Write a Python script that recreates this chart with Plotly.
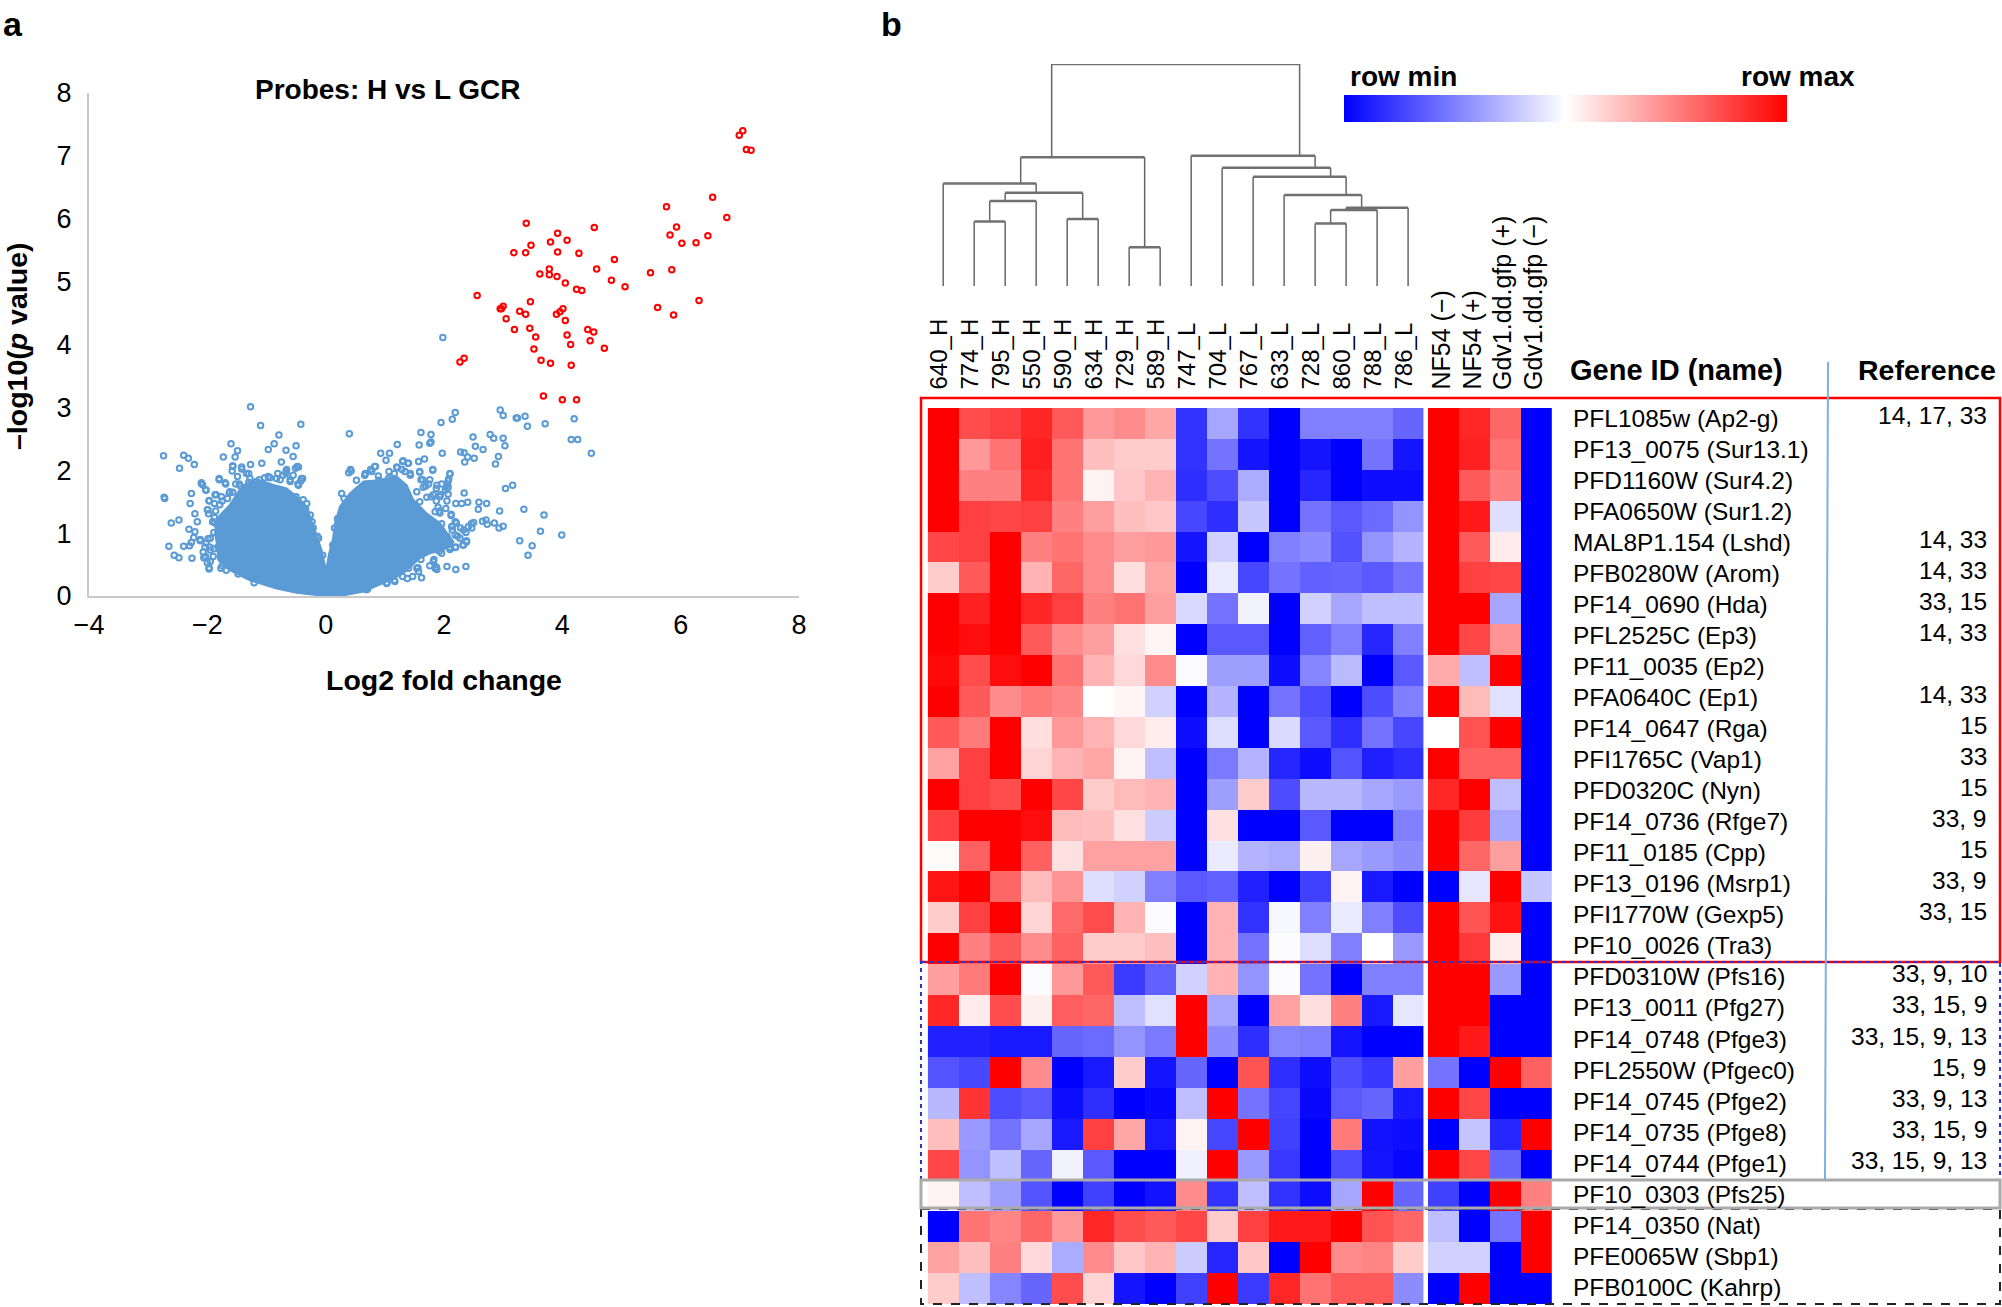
import plotly.graph_objects as go

W, H = 2002, 1307
FONT = "Liberation Sans"

# panel a: (log2 fold change, -log10 p)
red_points = [
    (7.05, 7.40), (6.99, 7.33), (7.11, 7.10), (7.19, 7.09), (6.54, 6.34), (5.76, 6.19), (6.78, 6.02),
    (3.39, 5.93), (4.54, 5.86), (5.93, 5.87), (3.92, 5.77), (6.46, 5.73), (5.82, 5.74), (4.08, 5.66),
    (3.80, 5.63), (3.47, 5.58), (6.02, 5.61), (6.26, 5.62), (3.18, 5.46), (3.38, 5.46), (3.92, 5.47),
    (4.28, 5.45), (4.88, 5.35), (3.78, 5.20), (4.58, 5.20), (5.85, 5.19), (5.49, 5.14), (3.62, 5.12),
    (3.78, 5.11), (3.91, 5.08), (4.83, 5.02), (4.05, 4.98), (5.06, 4.92), (4.24, 4.88), (4.33, 4.86),
    (2.56, 4.78), (3.46, 4.68), (6.31, 4.70), (3.00, 4.61), (2.95, 4.57), (2.97, 4.57), (5.61, 4.59),
    (4.01, 4.57), (3.96, 4.52), (3.90, 4.48), (3.28, 4.53), (3.38, 4.48), (5.88, 4.47), (3.05, 4.41),
    (4.05, 4.38), (3.45, 4.26), (3.19, 4.24), (4.43, 4.24), (4.53, 4.20), (4.08, 4.15), (3.55, 4.12),
    (4.47, 4.06), (4.14, 4.00), (4.71, 3.94), (3.52, 3.93), (2.34, 3.78), (2.27, 3.72), (3.64, 3.75),
    (3.80, 3.70), (4.15, 3.67), (3.68, 3.18), (4.00, 3.12), (4.24, 3.12),
]

blue_right = [
    (1.98, 4.11), (2.95, 2.96), (3.00, 2.87), (2.19, 2.92), (2.14, 2.81), (1.95, 2.76), (3.22, 2.83),
    (3.24, 2.83), (3.37, 2.86), (3.41, 2.70), (3.71, 2.74), (4.20, 2.82), (4.15, 2.49), (4.26, 2.49),
    (4.49, 2.27), (1.61, 2.60), (1.78, 2.57), (2.49, 2.53), (2.78, 2.57), (2.84, 2.51), (3.00, 2.51),
    (3.03, 2.39), (2.53, 2.38), (2.66, 2.33), (1.78, 2.45), (1.76, 2.43), (1.58, 2.40), (1.21, 2.41),
    (2.28, 2.29), (2.34, 2.28), (2.40, 2.21), (2.51, 2.19), (2.35, 2.13), (2.92, 2.22), (2.87, 2.10),
    (1.97, 2.27), (1.67, 2.18), (1.57, 2.14), (1.81, 2.01), (1.59, 1.98), (2.10, 1.95), (2.08, 1.86),
    (2.06, 1.78), (2.05, 1.71), (1.94, 1.61), (3.04, 1.71), (3.16, 1.76), (2.34, 1.64), (2.20, 1.47),
    (2.30, 1.47), (2.40, 1.49), (2.59, 1.49), (2.72, 1.47), (2.58, 1.38), (2.94, 1.35), (3.35, 1.38),
    (3.69, 1.29), (2.12, 1.30), (2.50, 1.17), (2.71, 1.21), (2.65, 1.19), (2.73, 1.14), (2.85, 1.16),
    (2.93, 1.08), (3.00, 1.11), (3.63, 1.03), (3.99, 0.97), (3.28, 0.88), (3.49, 0.80), (3.42, 0.65),
    (2.37, 0.47), (2.20, 0.42), (2.05, 0.47), (1.87, 0.46), (1.62, 0.29), (1.47, 0.31), (2.28, 1.08),
    (2.37, 1.01), (2.46, 1.15), (2.41, 1.10), (2.38, 0.88), (2.32, 0.81), (2.20, 0.78), (2.10, 0.77),
    (2.05, 0.95), (2.14, 1.05), (1.96, 1.15), (0.40, 2.58), (0.42, 2.01), (0.39, 1.96), (0.93, 2.27),
    (1.08, 2.27), (1.02, 2.16), (0.83, 2.06), (1.31, 2.15), (1.39, 2.11), (1.20, 2.05), (0.67, 1.95),
    (0.76, 2.01), (0.89, 1.91), (1.07, 1.98), (1.16, 1.95), (1.29, 2.01), (1.43, 1.95), (1.61, 1.85),
    (1.74, 1.78), (1.87, 1.71), (1.78, 1.58), (1.69, 1.75), (1.96, 1.78), (1.87, 1.51), (2.05, 1.51),
    (1.92, 1.35), (2.14, 1.11), (1.83, 0.58), (1.92, 0.71), (1.56, 0.45), (1.61, 0.58), (1.38, 0.28),
    (1.16, 0.25), (1.04, 0.21), (0.71, 0.11), (1.76, 0.48), (2.10, 0.85), (2.23, 0.95), (2.19, 1.18),
    (1.87, 0.98),
    (0.43, 1.99), (0.52, 1.84), (0.66, 1.92), (0.78, 1.98), (0.84, 2.06), (0.90, 1.84), (1.06, 1.87),
    (1.21, 2.04), (1.30, 2.14), (1.40, 2.11), (1.34, 1.98), (1.43, 1.92), (1.59, 1.97), (1.81, 2.00),
    (1.64, 1.85), (1.76, 1.85), (1.88, 1.76), (2.07, 1.83), (2.10, 1.94), (2.07, 1.73), (2.02, 1.68),
    (1.65, 1.73), (1.54, 1.66), (1.71, 1.57), (1.82, 1.61), (1.93, 1.58), (2.07, 1.62), (1.59, 1.50),
    (1.90, 1.41), (2.03, 1.39), (1.93, 1.32), (2.12, 1.28), (1.85, 1.34), (2.21, 1.16), (2.13, 1.10),
    (2.33, 1.05), (2.47, 1.08), (2.19, 0.97), (2.27, 0.92), (2.38, 0.86), (2.33, 0.81), (2.19, 0.77),
    (2.10, 0.74), (1.96, 0.68), (1.82, 0.55), (1.85, 0.44), (1.88, 0.42), (1.54, 0.44), (1.40, 0.44),
    (1.57, 0.39), (1.30, 0.31), (1.17, 0.23), (1.03, 0.20), (0.69, 0.10), (0.15, 1.08), (0.12, 0.81),
    (0.20, 1.23), (0.27, 1.63), (0.31, 1.55),
]

blue_left = [
    (-1.27, 3.01), (-1.10, 2.71), (-0.42, 2.73), (-0.79, 2.56), (-0.87, 2.42), (-0.97, 2.33), (-0.50, 2.39),
    (-0.67, 2.32), (-0.55, 2.22), (-1.60, 2.42), (-1.49, 2.31), (-1.53, 2.21), (-1.73, 2.21), (-2.74, 2.23),
    (-2.40, 2.24), (-2.32, 2.19), (-2.22, 2.09), (-2.47, 2.03), (-1.08, 2.11), (-1.27, 2.09), (-0.75, 2.13),
    (-0.48, 2.06), (-0.66, 2.01), (-1.57, 2.07), (-1.42, 2.05), (-1.80, 1.87), (-1.70, 1.80), (-2.10, 1.80),
    (-2.08, 1.77), (-2.03, 1.69), (-2.27, 1.63), (-0.41, 1.87), (-0.47, 1.78), (-2.73, 1.57), (-2.72, 1.55),
    (-2.29, 1.47), (-2.21, 1.31), (-2.48, 1.21), (-2.61, 1.16), (-2.17, 1.18), (-2.31, 1.06), (-2.21, 1.02),
    (-2.12, 0.90), (-2.23, 0.93), (-2.65, 0.79), (-2.40, 0.79), (-2.30, 0.80), (-2.27, 0.85), (-2.56, 0.65),
    (-2.48, 0.61), (-2.26, 0.60), (-1.97, 0.45), (-2.03, 0.63), (-1.99, 0.91), (-1.96, 0.78), (-1.95, 0.55),
    (-1.68, 0.41), (-1.75, 0.48), (-1.88, 0.75), (-1.97, 1.51), (-1.87, 1.61), (-1.99, 1.37), (-1.88, 1.25),
    (-1.82, 1.11), (-1.75, 1.51), (-1.62, 1.66), (-1.52, 1.78), (-1.30, 1.95), (-1.03, 1.88), (-0.81, 1.95),
    (-0.67, 1.95), (-1.48, 0.35), (-1.61, 0.48), (-1.77, 0.61), (-1.82, 0.78), (-1.89, 1.01), (-1.91, 1.18),
    (-1.86, 1.35), (-1.79, 1.45), (-1.66, 1.55), (-1.57, 1.65), (-1.44, 1.75), (-1.30, 1.81), (-1.12, 1.85),
    (-0.94, 1.88), (-0.77, 1.85), (-0.60, 1.85), (-0.50, 1.58), (-0.34, 1.38), (-0.23, 1.18), (-0.14, 0.95),
    (-1.21, 0.21),
    (-0.51, 2.03), (-0.46, 2.05), (-0.67, 1.98), (-0.55, 1.92), (-0.39, 1.87), (-0.42, 1.83), (-0.46, 1.76),
    (-1.57, 2.06), (-1.58, 1.99), (-1.42, 2.02), (-1.34, 1.95), (-1.49, 1.90), (-1.80, 1.85), (-1.69, 1.78),
    (-2.10, 1.79), (-2.02, 1.68), (-1.46, 1.78), (-1.63, 1.64), (-1.85, 1.61), (-1.76, 1.58), (-1.97, 1.52),
    (-1.88, 1.47), (-2.00, 1.37), (-1.98, 1.31), (-1.87, 1.16), (-1.81, 1.08), (-1.90, 1.18), (-1.76, 1.23),
    (-1.95, 0.92), (-2.02, 0.84), (-2.12, 0.88), (-1.95, 0.73), (-1.90, 0.63), (-1.76, 0.86), (-2.04, 0.78),
    (-2.07, 0.70), (-2.06, 0.61), (-2.00, 0.53), (-1.97, 0.43), (-1.77, 0.44), (-0.97, 1.90), (-0.83, 1.87),
    (-0.72, 1.92), (-0.60, 1.82), (-1.17, 1.82), (-1.28, 1.87), (-0.32, 1.47), (-0.26, 1.29), (-0.12, 0.92),
    (-0.38, 1.53), (-0.21, 1.08), (-0.05, 0.65),
]

# outlines of the two solid parts of the cloud, too dense to read point by point
mass_left = [
    (0.0, 0.0), (-0.49, 0.05), (-0.83, 0.12), (-1.28, 0.25), (-1.62, 0.41), (-1.81, 0.57), (-1.84, 0.84),
    (-1.87, 1.00), (-1.81, 1.26), (-1.62, 1.45), (-1.45, 1.69), (-1.34, 1.79), (-1.11, 1.84), (-0.86, 1.76),
    (-0.66, 1.71), (-0.49, 1.58), (-0.32, 1.42), (-0.24, 1.21), (-0.15, 0.97), (-0.07, 0.73), (-0.01, 0.47),
    (0.0, 0.0),
]
mass_right = [
    (0.0, 0.0), (0.02, 0.47), (0.06, 0.68), (0.12, 0.89), (0.16, 1.16), (0.24, 1.42), (0.41, 1.63),
    (0.64, 1.82), (0.89, 1.84), (1.20, 1.90), (1.37, 1.76), (1.48, 1.53), (1.71, 1.31), (1.93, 1.16),
    (2.05, 1.00), (2.16, 0.86), (1.99, 0.73), (1.76, 0.68), (1.59, 0.60), (1.31, 0.36), (1.03, 0.23),
    (0.64, 0.07), (0.24, 0.0), (0.0, 0.0),
]

# panel b
col_a = ["640_H", "774_H", "795_H", "550_H", "590_H", "634_H", "729_H", "589_H",
         "747_L", "704_L", "767_L", "633_L", "728_L", "860_L", "788_L", "786_L"]
col_b = ["NF54 (\u2212)", "NF54 (+)", "Gdv1.dd.gfp (+)", "Gdv1.dd.gfp (\u2212)"]

genes = [
    "PFL1085w (Ap2-g)", "PF13_0075 (Sur13.1)", "PFD1160W (Sur4.2)", "PFA0650W (Sur1.2)",
    "MAL8P1.154 (Lshd)", "PFB0280W (Arom)", "PF14_0690 (Hda)", "PFL2525C (Ep3)", "PF11_0035 (Ep2)",
    "PFA0640C (Ep1)", "PF14_0647 (Rga)", "PFI1765C (Vap1)", "PFD0320C (Nyn)", "PF14_0736 (Rfge7)",
    "PF11_0185 (Cpp)", "PF13_0196 (Msrp1)", "PFI1770W (Gexp5)", "PF10_0026 (Tra3)", "PFD0310W (Pfs16)",
    "PF13_0011 (Pfg27)", "PF14_0748 (Pfge3)", "PFL2550W (Pfgec0)", "PF14_0745 (Pfge2)", "PF14_0735 (Pfge8)",
    "PF14_0744 (Pfge1)", "PF10_0303 (Pfs25)", "PF14_0350 (Nat)", "PFE0065W (Sbp1)", "PFB0100C (Kahrp)",
]
references = [
    "14, 17, 33", "", "", "", "14, 33", "14, 33", "33, 15", "14, 33", "", "14, 33", "15", "33", "15",
    "33, 9", "15", "33, 9", "33, 15", "", "33, 9, 10", "33, 15, 9", "33, 15, 9, 13", "15, 9", "33, 9, 13",
    "33, 15, 9", "33, 15, 9, 13", "", "", "", "",
]

z_a = [
    [1, .7, .75, .85, .65, .4, .45, .35, -.8, -.35, -.8, -1, -.5, -.5, -.5, -.6],
    [1, .4, .55, .88, .55, .25, .2, .2, -.8, -.55, -.92, -1, -.92, -1, -.55, -.92],
    [1, .5, .5, .85, .55, .05, .22, .3, -.82, -.7, -.33, -1, -.85, -1, -.95, -.95],
    [1, .75, .72, .75, .5, .38, .25, .22, -.72, -.82, -.22, -1, -.55, -.65, -.58, -.42],
    [.72, .75, 1, .5, .55, .45, .38, .4, -.92, -.18, -1, -.5, -.45, -.68, -.42, -.3],
    [.2, .65, 1, .3, .6, .45, .13, .35, -1, -.08, -.72, -.55, -.62, -.6, -.65, -.55],
    [1, .87, 1, .85, .75, .5, .55, .38, -.15, -.55, -.05, -1, -.18, -.35, -.25, -.25],
    [1, .95, 1, .65, .45, .38, .12, .04, -1, -.65, -.65, -1, -.62, -.5, -.85, -.5],
    [.97, .7, .95, 1, .55, .3, .15, .45, -.02, -.38, -.38, -.95, -.48, -.27, -1, -.65],
    [1, .65, .45, .52, .47, 0, .04, -.18, -1, -.3, -1, -.55, -.7, -1, -.7, -.5],
    [.65, .52, 1, .13, .4, .3, .15, .07, -.95, -.13, -1, -.14, -.65, -.82, -.55, -.72],
    [.37, .75, 1, .17, .3, .35, .05, -.25, -1, -.52, -.3, -.85, -.95, -.67, -.88, -.82],
    [1, .75, .7, 1, .72, .2, .27, .3, -1, -.38, .2, -.7, -.28, -.28, -.35, -.4],
    [.75, 1, 1, .95, .27, .25, .12, -.2, -1, .12, -1, -1, -.65, -1, -1, -.5],
    [.02, .62, 1, .62, .12, .37, .37, .37, -1, -.08, -.3, -.33, .06, -.35, -.4, -.45],
    [.92, 1, .6, .27, .42, -.13, -.18, -.5, -.65, -.62, -.87, -1, -.75, .05, -.9, -1],
    [.2, .75, 1, .17, .58, .7, .3, -.01, -1, .3, -.8, -.03, -.5, -.08, -.5, -.7],
    [1, .5, .65, .45, .62, .2, .2, .25, -1, .3, -.55, -.01, -.13, -.5, 0, -.4],
    [.38, .52, 1, -.02, .4, .65, -.77, -.62, -.18, .3, -.42, -.01, -.55, -1, -.5, -.5],
    [.85, .08, .7, .06, .63, .6, -.25, -.12, 1, -.35, -1, .37, .13, .5, -.9, -.1],
    [-.87, -.87, -.9, -.9, -.6, -.58, -.42, -.52, 1, -.45, -.82, -.48, -.5, -.92, -1, -1],
    [-.67, -.72, 1, .45, -1, -.9, .2, -.92, -.6, -1, .67, -.82, -.95, -.7, -.78, .38],
    [-.28, .8, -.7, -.65, -.95, -.82, -1, -.97, -.25, 1, -.55, -.73, -.97, -.65, -.6, -.9],
    [.25, -.4, -.55, -.35, -.9, .75, .35, -.9, .05, -.72, 1, -.75, -1, .52, -.93, -.95],
    [.72, -.42, -.25, -.6, -.05, -.65, -1, -1, -.06, 1, -.4, -.78, -1, -.7, -.92, -.97],
    [.05, -.25, -.38, -.67, -1, -.75, -1, -.93, .45, -.8, -.25, -.8, -.95, -.35, 1, -.6],
    [-1, .55, .48, .6, .4, .85, .7, .65, .72, .2, .75, .9, .9, 1, .68, .6],
    [.37, .25, .5, .15, -.33, .45, .22, .3, -.2, -.85, .22, -1, 1, .45, .48, .2],
    [.2, -.25, -.48, -.6, .7, .17, -.92, -1, -.75, 1, -.77, .85, .55, .65, .65, -.45],
]
z_b = [
    [1, .85, .6, -1], [1, .87, .55, -1], [1, .65, .5, -1], [1, .9, -.13, -1], [1, .65, .08, -1],
    [1, .75, .72, -1], [1, 1, -.35, -1], [1, .72, .42, -1], [.33, -.25, 1, -1], [1, .27, -.12, -1],
    [0, .68, 1, -1], [1, .62, .62, -1], [.85, 1, -.25, -1], [1, .77, -.35, -1], [1, .6, .38, -1],
    [-1, -.1, 1, -.22], [1, .67, .93, -1], [1, .78, .07, -1], [1, 1, -.4, -1], [1, 1, -1, -1],
    [1, .9, -1, -1], [-.55, -1, 1, .62], [1, .72, -1, -1], [-1, -.23, -.85, 1], [1, .72, -.6, -1],
    [-.75, -1, 1, .5], [-.25, -1, -.55, 1], [-.18, -.18, -1, 1], [-1, 1, -1, -1],
]

# dendrogram merges: two children (leaf index, or "n<k>" for merge k) and height
merges = [
    (1, 2, .29), ("n0", 3, .383), (4, 5, .302), ("n1", "n2", .42), (0, "n3", .462), (6, 7, .174),
    ("n4", "n5", .58), (12, 13, .282), ("n7", 14, .342), ("n8", 15, .353), (11, "n9", .41),
    (10, "n10", .492), (9, "n11", .533), (8, "n12", .587), ("n6", "n13", 1.0),
]

BLUE = "#5b9bd5"
HEAT = [[0, "#0000ff"], [0.5, "#ffffff"], [1, "#ff0000"]]


def px(x):
    return x / W


def py(y):
    return 1 - y / H


def xs(points):
    return [p[0] for p in points]


def ys(points):
    return [p[1] for p in points]


fig = go.Figure()

# volcano
for mass in (mass_left, mass_right):
    fig.add_trace(go.Scatter(x=xs(mass), y=ys(mass), mode="lines", fill="toself", fillcolor=BLUE,
                             line=dict(color=BLUE, width=2), hoverinfo="skip", showlegend=False))
blue_points = blue_left + blue_right
fig.add_trace(go.Scatter(x=xs(blue_points), y=ys(blue_points), mode="markers", cliponaxis=False, showlegend=False,
                         marker=dict(symbol="circle-open", size=5.5, color=BLUE, line=dict(color=BLUE, width=2))))
fig.add_trace(go.Scatter(x=xs(red_points), y=ys(red_points), mode="markers", cliponaxis=False, showlegend=False,
                         marker=dict(symbol="circle-open", size=5.5, color="#ff0000", line=dict(color="#ff0000", width=2))))

# heat maps, the first one carries the row min / row max bar
fig.add_trace(go.Heatmap(
    z=z_a, x=col_a, y=genes, xaxis="x2", yaxis="y2", colorscale=HEAT, zmin=-1, zmax=1,
    colorbar=dict(orientation="h", x=px(1344), xanchor="left", y=py(122), yanchor="bottom",
                  lenmode="pixels", len=443, thicknessmode="pixels", thickness=27,
                  xpad=0, ypad=0, outlinewidth=0, ticks="", showticklabels=False),
))
fig.add_trace(go.Heatmap(z=z_b, x=col_b, y=genes, xaxis="x3", yaxis="y2", colorscale=HEAT, zmin=-1, zmax=1,
                         showscale=False))

# dendrogram, node x is the mean of its leaves
nodes = []
hor_x, hor_y, ver_x, ver_y = [], [], [], []


def node_info(child):
    if isinstance(child, str):
        return nodes[int(child[1:])]
    return child, 0, [child]


for left, right, height in merges:
    lx, lh, lleaves = node_info(left)
    rx, rh, rleaves = node_info(right)
    leaves = lleaves + rleaves
    nodes.append((sum(leaves) / len(leaves), height, leaves))
    hor_x += [lx, rx, None]
    hor_y += [height, height, None]
    ver_x += [lx, lx, None, rx, rx, None]
    ver_y += [lh, height, None, rh, height, None]

fig.add_trace(go.Scatter(x=ver_x, y=ver_y, mode="lines", xaxis="x4", yaxis="y4", showlegend=False,
                         hoverinfo="skip", line=dict(color="#666666", width=1.5)))
fig.add_trace(go.Scatter(x=hor_x, y=hor_y, mode="lines", xaxis="x4", yaxis="y4", showlegend=False,
                         hoverinfo="skip", line=dict(color="#707070", width=2.5)))

annotations = []


def add_text(text, x, y, size, xanchor="center", yanchor="middle", angle=0):
    annotations.append(dict(text=text, x=px(x), y=py(y), xref="paper", yref="paper", showarrow=False,
                            xanchor=xanchor, yanchor=yanchor, textangle=angle,
                            font=dict(family=FONT, size=size, color="black")))


add_text("<b>a</b>", 13, 24, 34)
add_text("<b>b</b>", 891, 24, 34)
add_text("<b>Probes: H vs L GCR</b>", 388, 89, 28)
add_text("<b>Log2 fold change</b>", 444, 680, 28.5)
add_text("<b>\u2013log10(<i>p</i> value)</b>", 17, 346, 28.5, angle=-90)
add_text("<b>row min</b>", 1403, 77, 28)
add_text("<b>row max</b>", 1798, 77, 28)
add_text("<b>Gene ID (name)</b>", 1568, 370, 29, xanchor="left")
add_text("<b>Reference</b>", 1927, 370, 28.5)

for i, name in enumerate(col_a):
    add_text(name, 938 + 31 * i, 392, 24, yanchor="bottom", angle=-90)
for i, name in enumerate(col_b):
    add_text(name, 1440 + 31 * i, 392, 25, yanchor="bottom", angle=-90)

for i, gene in enumerate(genes):
    add_text(gene, 1571, 418 + 31.05 * i, 24.5, xanchor="left")
    if references[i]:
        add_text(references[i], 1989, 415 + 31.05 * i, 24.5, xanchor="right")


def box(y0, y1, color, width, dash="solid"):
    return dict(type="rect", xref="paper", yref="paper", x0=px(921), x1=px(2000), y0=py(y0), y1=py(y1),
                line=dict(color=color, width=width, dash=dash))


shapes = [
    box(398, 962, "#ff0000", 2.5),
    box(962, 1180, "#2436d8", 2, "4px,4px"),
    box(1209, 1304, "#222222", 2, "dash"),
    box(1180, 1208, "#aaaaaa", 3),
    dict(type="line", xref="paper", yref="paper", x0=px(1828), x1=px(1825), y0=py(362), y1=py(1180),
         line=dict(color="#7fb0e0", width=2)),
]

axis_font = dict(family=FONT, size=27, color="black")
hidden = dict(visible=False, showgrid=False, zeroline=False)

fig.update_layout(
    width=W, height=H, margin=dict(l=0, r=0, t=0, b=0, autoexpand=False), paper_bgcolor="white", plot_bgcolor="white",
    showlegend=False, annotations=annotations, shapes=shapes, font=dict(family=FONT),
    xaxis=dict(domain=[px(89), px(799)], range=[-4, 8], dtick=2, showgrid=False, zeroline=False, showline=True,
               linecolor="#c9c9c9", linewidth=2, tickfont=axis_font, ticks="", ticklabelstandoff=4),
    yaxis=dict(domain=[py(596), py(93)], range=[0, 8], dtick=1, showgrid=False, zeroline=False, showline=True,
               linecolor="#c9c9c9", linewidth=2, tickfont=axis_font, ticks="", ticklabelstandoff=10),
    xaxis2=dict(domain=[px(927.7), px(1423.6)], anchor="y2", **hidden),
    xaxis3=dict(domain=[px(1428), px(1551.8)], anchor="y2", **hidden),
    yaxis2=dict(domain=[py(1304), py(408)], anchor="x2", autorange="reversed", **hidden),
    xaxis4=dict(domain=[px(927.7), px(1423.6)], range=[-0.5, 15.5], anchor="y4", **hidden),
    yaxis4=dict(domain=[py(286), py(64)], range=[0, 1], anchor="x4", **hidden),
)

fig.write_html("out.html", config=dict(displayModeBar=False), post_script="document.body.style.margin='0';")
